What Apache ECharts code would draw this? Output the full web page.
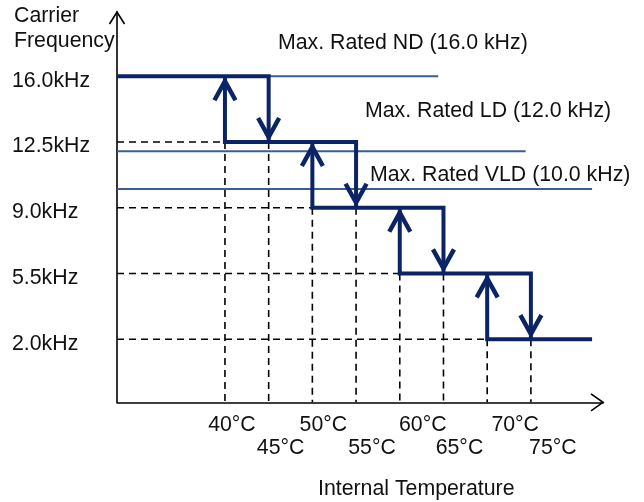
<!DOCTYPE html>
<html><head><meta charset="utf-8">
<script src="https://cdn.jsdelivr.net/npm/echarts@6/dist/echarts.min.js"></script>
<style>html,body{margin:0;padding:0;background:#fff}#c{width:644px;height:502px}</style>
</head><body><div id="c"></div>
<script>
// ---- data ----
const levels = [16.0, 12.5, 9.0, 5.5, 2.0];
const levelLabels = ['16.0kHz', '12.5kHz', '9.0kHz', '5.5kHz', '2.0kHz'];
const upTemps = [40, 50, 60, 70];
const downTemps = [45, 55, 65, 75];
const stepEndTemp = 82;
const dashEndTemps = [47, 57, 67, 77];
const xTickTemps = [40, 45, 50, 55, 60, 65, 70, 75];
const xTickLabels = ['40°C', '45°C', '50°C', '55°C', '60°C', '65°C', '70°C', '75°C'];
const ratedNames = ['Max. Rated ND (16.0 kHz)', 'Max. Rated LD (12.0 kHz)', 'Max. Rated VLD (10.0 kHz)'];
const ratedValues = [16.0, 12.0, 10.0];
const ratedEndTemps = [64.4, 74.4, 82.0];
const yTitle = 'Carrier\nFrequency';
const xTitle = 'Internal Temperature';

// ---- layout / style ----
const xMin = 27.65, xMax = 83.25, yMin = -1.36, yMax = 19.42;
const FONT = 'Liberation Sans, Arial, sans-serif';
const FS = 21.3;
const NAVY = '#0b2466';
const THIN = '#3b5e98';
const TXT = '#111';
const xLabelShift = {40: 7, 45: 12, 50: 11, 55: 16, 60: 23, 65: 16, 70: 28, 75: 22};
const xRowOffset = [22.5, 46];
const ratedLabelOffset = [[161, -33], [248, -40.6], [253, -14]];

const series = [];

// rated thin lines
ratedValues.forEach((v, i) => {
  series.push({
    type: 'line', silent: true, symbol: 'none', z: 2,
    lineStyle: {color: THIN, width: 2},
    data: [[xMin, v], [ratedEndTemps[i], v]]
  });
});

// dashed helper lines
const dashStyle = {color: '#000', width: 1.6, type: [7, 5]};
dashEndTemps.forEach((t, i) => {
  series.push({type: 'line', silent: true, symbol: 'none', z: 3, lineStyle: dashStyle,
    data: [[xMin, levels[i + 1]], [t, levels[i + 1]]]});
});
upTemps.forEach((t, i) => {
  series.push({type: 'line', silent: true, symbol: 'none', z: 3, lineStyle: dashStyle,
    data: [[t, levels[i + 1]], [t, yMin]]});
});
downTemps.forEach((t, i) => {
  series.push({type: 'line', silent: true, symbol: 'none', z: 3, lineStyle: dashStyle,
    data: [[t, levels[i + 1]], [t, yMin]]});
});

// thick step paths
const thick = {color: NAVY, width: 4, join: 'miter'};
series.push({type: 'line', silent: true, symbol: 'none', z: 5, lineStyle: thick,
  data: [[xMin, levels[0]], [downTemps[0], levels[0]], [downTemps[0], levels[1]]]});
for (let i = 1; i <= 4; i++) {
  const d = [[upTemps[i - 1], levels[i - 1]], [upTemps[i - 1], levels[i]]];
  if (i < 4) { d.push([downTemps[i], levels[i]]); d.push([downTemps[i], levels[i + 1]]); }
  else { d.push([stepEndTemp, levels[i]]); }
  series.push({type: 'line', silent: true, symbol: 'none', z: 5, lineStyle: thick, data: d});
}

// arrow heads
const heads = upTemps.map((t, i) => [t, levels[i], 1]).concat(downTemps.map((t, i) => [t, levels[i + 1], -1]));
series.push({
  type: 'custom', silent: true, z: 6, clip: false,
  data: heads,
  renderItem: (params, api) => {
    const p = api.coord([api.value(0), api.value(1)]);
    const dir = api.value(2);
    const ty = p[1] + dir * 5;
    return {type: 'polyline', shape: {points: [[p[0] - 10.5, ty + dir * 19], [p[0], ty], [p[0] + 10.5, ty + dir * 19]]},
      style: {stroke: NAVY, lineWidth: 4.5, fill: null, lineJoin: 'miter'}};
  }
});

// axis arrow heads
series.push({
  type: 'custom', silent: true, z: 6, clip: false,
  data: [[xMax, yMin, 0], [xMin, yMax, 1]],
  renderItem: (params, api) => {
    const p = api.coord([api.value(0), api.value(1)]);
    const pts = api.value(2) === 0
      ? [[p[0] - 12, p[1] - 8.5], [p[0], p[1]], [p[0] - 12, p[1] + 8.5]]
      : [[p[0] - 7.5, p[1] + 12], [p[0], p[1]], [p[0] + 7.5, p[1] + 12]];
    return {type: 'polyline', shape: {points: pts}, style: {stroke: '#000', lineWidth: 1.6, fill: null}};
  }
});

// rated labels
series.push({
  type: 'custom', silent: true, z: 7, clip: false,
  data: ratedValues.map((v, i) => [xMin, v, i]),
  renderItem: (params, api) => {
    const i = api.value(2);
    const p = api.coord([api.value(0), api.value(1)]);
    return {type: 'text', x: p[0] + ratedLabelOffset[i][0], y: p[1] + ratedLabelOffset[i][1],
      style: {text: ratedNames[i], fontSize: FS, fontFamily: FONT, fill: TXT, align: 'left', verticalAlign: 'middle'}};
  }
});

// x tick labels (two staggered rows)
series.push({
  type: 'custom', silent: true, z: 7, clip: false,
  data: xTickTemps.map((t, i) => [t, yMin, i]),
  renderItem: (params, api) => {
    const i = api.value(2), t = api.value(0);
    const p = api.coord([t, api.value(1)]);
    return {type: 'text', x: p[0] + xLabelShift[t], y: p[1] + xRowOffset[t % 10 === 0 ? 0 : 1],
      style: {text: xTickLabels[i], fontSize: FS, fontFamily: FONT, fill: TXT, align: 'center', verticalAlign: 'middle'}};
  }
});

// y tick labels
series.push({
  type: 'custom', silent: true, z: 7, clip: false,
  data: levels.map((v, i) => [xMin, v, i]),
  renderItem: (params, api) => {
    const i = api.value(2);
    const p = api.coord([api.value(0), api.value(1)]);
    return {type: 'text', x: p[0] - 105, y: p[1] + 4.5,
      style: {text: levelLabels[i], fontSize: FS, fontFamily: FONT, fill: TXT, align: 'left', verticalAlign: 'middle'}};
  }
});

const option = {
  animation: false,
  backgroundColor: '#fff',
  title: [
    {text: yTitle, left: 14, top: 4, padding: 0, textStyle: {fontSize: FS, fontFamily: FONT, fontWeight: 'normal', color: TXT, lineHeight: 25}},
    {text: xTitle, left: 318, top: 477, padding: 0, textStyle: {fontSize: FS, fontFamily: FONT, fontWeight: 'normal', color: TXT, lineHeight: 24}}
  ],
  grid: {left: 117, right: 41, top: 12, bottom: 99.7, containLabel: false},
  xAxis: {
    type: 'value', min: xMin, max: xMax,
    axisLine: {show: true, onZero: false, lineStyle: {color: '#000', width: 1.6}},
    axisTick: {show: false}, splitLine: {show: false}, axisLabel: {show: false}
  },
  yAxis: {
    type: 'value', min: yMin, max: yMax,
    axisLine: {show: true, onZero: false, lineStyle: {color: '#000', width: 1.6}},
    axisTick: {show: false}, splitLine: {show: false}, axisLabel: {show: false}
  },
  series: series
};
echarts.init(document.getElementById('c'), null, {renderer: 'canvas'}).setOption(option);
</script></body></html>
